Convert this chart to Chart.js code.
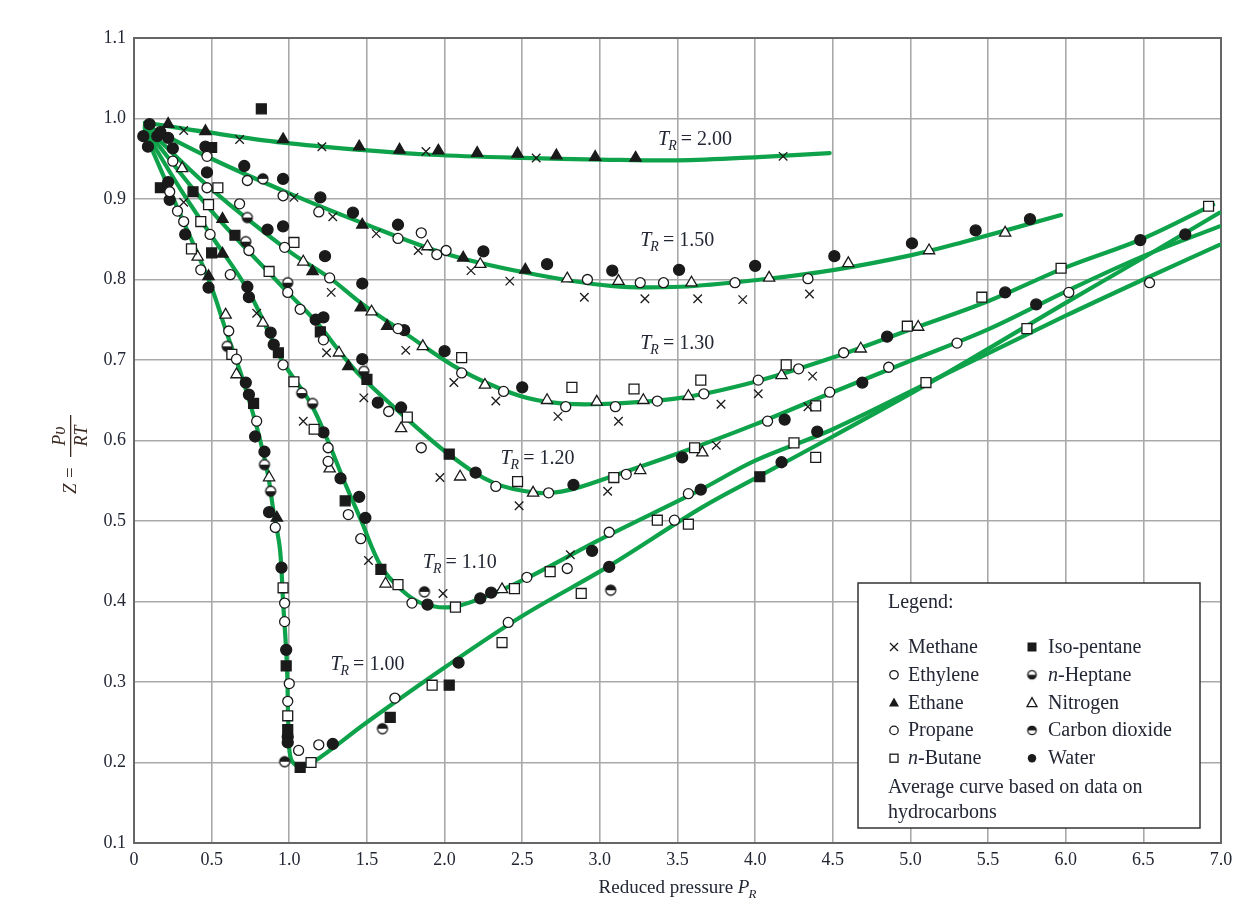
<!DOCTYPE html>
<html>
<head>
<meta charset="utf-8">
<script src="https://cdn.jsdelivr.net/npm/chart.js@4.4.1/dist/chart.umd.min.js"></script>
<style>
  html, body { margin: 0; padding: 0; background: #fff; }
  #wrap { width: 1251px; height: 910px; }
</style>
</head>
<body>
<div id="wrap"><canvas id="grafico" width="1251" height="910"></canvas></div>
<script>
// Curvas médias (Z x Pr) para cada temperatura reduzida
const curvaTR200 = [[0.07,0.995],[0.47,0.983],[0.96,0.970],[1.46,0.961],[1.91,0.955],[2.5,0.951],[3.0,0.949],[3.5,0.948],[4.02,0.952],[4.48,0.957]];
const curvaTR150 = [[0.07,0.992],[0.5,0.950],[1.0,0.907],[1.46,0.871],[1.99,0.833],[2.51,0.809],[3.07,0.792],[3.52,0.791],[4.04,0.800],[4.51,0.812],[5.0,0.830],[5.33,0.846],[5.97,0.880]];
const curvaTR130 = [[0.07,0.990],[0.5,0.912],[1.0,0.835],[1.26,0.802],[1.46,0.771],[1.74,0.734],[2.1,0.688],[2.43,0.659],[2.66,0.648],[2.96,0.645],[3.52,0.653],[4.0,0.673],[4.5,0.703],[5.0,0.738],[5.5,0.773],[6.0,0.815],[6.5,0.851],[6.95,0.893]];
const curvaTR120 = [[0.07,0.988],[0.5,0.885],[0.99,0.784],[1.18,0.746],[1.33,0.709],[1.46,0.680],[1.74,0.630],[2.04,0.581],[2.32,0.547],[2.6,0.535],[2.79,0.538],[3.07,0.555],[3.52,0.585],[4.0,0.620],[4.5,0.660],[5.0,0.699],[5.5,0.738],[6.0,0.785],[6.5,0.829],[6.99,0.866]];
const curvaTR110 = [[0.07,0.985],[0.3,0.912],[0.5,0.854],[0.73,0.788],[0.88,0.729],[0.96,0.697],[1.135,0.647],[1.245,0.601],[1.35,0.551],[1.46,0.502],[1.59,0.444],[1.72,0.415],[1.85,0.398],[2.04,0.393],[2.25,0.405],[2.55,0.431],[3.0,0.477],[3.65,0.539],[4.0,0.575],[4.5,0.614],[5.2,0.680],[6.0,0.755],[6.5,0.800],[6.99,0.843]];
const curvaTR100 = [[0.07,0.982],[0.3,0.880],[0.49,0.795],[0.6,0.732],[0.7,0.676],[0.79,0.617],[0.86,0.560],[0.9,0.510],[0.94,0.465],[0.96,0.400],[0.985,0.320],[0.995,0.240],[1.01,0.205],[1.06,0.195],[1.15,0.200],[1.5,0.250],[2.0,0.318],[2.5,0.382],[3.05,0.443],[3.65,0.516],[4.03,0.556],[4.5,0.605],[5.2,0.680],[6.0,0.771],[6.5,0.827],[6.99,0.883]];

// Pontos experimentais por substância [Pr, Z]
const metano = [[0.32,0.985],[0.68,0.974],[1.21,0.965],[1.88,0.959],[2.59,0.951],[4.18,0.953],
  [1.03,0.902],[1.28,0.878],[1.56,0.857],[1.83,0.836],[2.17,0.811],[2.42,0.798],[2.90,0.778],[3.29,0.776],[3.63,0.776],[3.92,0.775],[4.35,0.782],
  [0.32,0.896],[1.27,0.784],[1.75,0.712],[2.06,0.672],[2.33,0.649],[2.73,0.630],[3.12,0.624],[3.78,0.645],[4.02,0.658],[4.37,0.680],
  [1.24,0.709],[1.48,0.653],[1.97,0.554],[2.48,0.519],[3.05,0.537],[3.75,0.594],[4.34,0.642],
  [0.79,0.758],[1.09,0.624],[1.51,0.451],[1.99,0.410],[2.81,0.458]];
const etileno = [[0.25,0.947],[0.47,0.953],[0.73,0.923],[0.96,0.904],[1.19,0.884],[1.70,0.851],[1.85,0.858],[1.95,0.831],[2.01,0.836],[2.92,0.800],[3.26,0.796],[3.41,0.796],[3.87,0.796],[4.34,0.801],
  [0.47,0.914],[0.68,0.894],[0.97,0.840],[1.26,0.802],[1.70,0.739],[2.11,0.684],[2.38,0.661],[2.78,0.642],[3.10,0.642],[3.37,0.649],[3.67,0.658],[4.02,0.675],[4.28,0.689],[4.57,0.709]];
const etano = [[0.22,0.993],[0.46,0.984],[0.96,0.974],[1.45,0.965],[1.71,0.961],[1.96,0.960],[2.21,0.957],[2.47,0.956],[2.72,0.954],[2.97,0.952],[3.23,0.951],
  [1.47,0.868],[2.12,0.827],[2.52,0.812],[1.15,0.810],[1.46,0.765],[1.63,0.742],[0.57,0.875],
  [0.48,0.804],[1.38,0.692],[0.57,0.832],[0.92,0.504]];
const propano = [[0.23,0.909],[0.28,0.885],[0.32,0.872],[0.49,0.856],[0.74,0.836],[0.99,0.784],[1.07,0.763],[1.22,0.725],[1.64,0.636],[1.85,0.591],[2.33,0.543],[2.67,0.535],[3.17,0.558],[4.08,0.624],[4.48,0.660],[4.86,0.691],[5.30,0.721],[6.02,0.784],
  [0.43,0.812],[0.62,0.806],[0.96,0.694],[1.25,0.591],[1.25,0.574],[1.38,0.508],[1.46,0.478],[1.79,0.398],[2.53,0.430],[2.79,0.441],[3.06,0.486],[3.48,0.501],[3.57,0.534],[6.54,0.796],
  [0.61,0.736],[0.66,0.701],[0.79,0.624],[0.91,0.492],[0.97,0.398],[0.97,0.375],[1.0,0.298],[0.99,0.276],[1.06,0.215],[1.19,0.222],[1.68,0.280],[2.41,0.374]];
const nButano = [[0.54,0.914],[0.48,0.893],[0.43,0.872],[1.03,0.846],[0.37,0.838],[0.87,0.810],[0.63,0.707],[1.03,0.673],[1.16,0.614],
  [2.11,0.703],[2.82,0.666],[3.22,0.664],[3.65,0.675],[4.20,0.694],[4.98,0.742],[1.76,0.629],[2.47,0.549],[3.09,0.554],[3.61,0.591],[4.39,0.643],
  [5.46,0.778],[5.97,0.814],[6.92,0.891],[1.70,0.421],[2.07,0.393],[2.45,0.416],[2.68,0.437],[3.37,0.501],[3.57,0.496],[4.25,0.597],[5.75,0.739],
  [0.96,0.417],[0.99,0.258],[1.14,0.200],[1.92,0.296],[2.37,0.349],[2.88,0.410],[4.39,0.579],[5.10,0.672]];
const isoPentano = [[0.82,1.012],[0.50,0.964],[0.17,0.914],[0.38,0.909],[0.50,0.833],[0.65,0.855],[1.20,0.735],[0.93,0.709],[1.50,0.676],[2.03,0.583],
  [0.77,0.646],[1.36,0.525],[1.59,0.440],[0.98,0.320],[0.99,0.241],[1.07,0.194],[1.65,0.256],[2.03,0.296],[4.03,0.555]];
const nHeptano = [[0.73,0.877],[0.72,0.847],[0.99,0.796],[1.08,0.659],[1.15,0.646],[1.48,0.686],[0.60,0.717],[0.84,0.570],[0.88,0.537]];
const dioxidoCarbono = [[0.83,0.925],[1.87,0.412],[3.07,0.414],[1.60,0.242],[0.97,0.201]];
const nitrogenio = [[0.31,0.938],[1.89,0.841],[2.23,0.819],[2.79,0.801],[3.12,0.798],[3.59,0.796],[4.09,0.802],[4.60,0.820],[5.12,0.836],[5.61,0.858],
  [1.09,0.822],[1.53,0.760],[1.86,0.717],[2.26,0.669],[2.66,0.650],[2.98,0.648],[3.28,0.650],[3.57,0.655],[4.17,0.681],[4.68,0.714],[5.05,0.741],
  [0.41,0.828],[1.32,0.709],[1.72,0.615],[2.10,0.555],[2.57,0.535],[3.26,0.563],[3.66,0.585],
  [0.83,0.746],[1.26,0.565],[1.62,0.422],[2.37,0.415],[0.59,0.756],[0.66,0.682],[0.87,0.554]];
const agua = [[0.10,0.993],[0.06,0.978],[0.09,0.965],[0.15,0.978],[0.22,0.976],[0.17,0.983],[0.25,0.963],[0.22,0.921],[0.23,0.899],[0.33,0.856],[0.48,0.790],
  [0.46,0.965],[0.47,0.933],[0.71,0.941],[0.96,0.925],[1.20,0.902],[1.41,0.883],[1.70,0.868],[2.25,0.835],[2.66,0.819],[3.08,0.811],[3.51,0.812],[4.0,0.817],[4.51,0.829],[5.01,0.845],[5.42,0.861],[5.77,0.875],
  [0.86,0.862],[0.96,0.866],[1.23,0.829],[1.47,0.795],[1.74,0.737],[4.85,0.729],[6.48,0.849],
  [2.0,0.711],[2.50,0.666],[0.73,0.791],[0.74,0.778],[0.88,0.734],[1.17,0.750],[1.22,0.753],[1.47,0.701],[1.57,0.647],[1.72,0.641],[2.20,0.560],[2.83,0.545],[3.53,0.579],[4.19,0.626],[4.69,0.672],[5.61,0.784],[5.81,0.769],[6.77,0.856],
  [0.90,0.719],[1.22,0.610],[1.33,0.553],[1.45,0.530],[1.49,0.504],[1.89,0.396],[2.23,0.404],[2.30,0.411],[2.95,0.463],[3.65,0.539],[4.40,0.611],
  [0.72,0.672],[0.74,0.657],[0.78,0.605],[0.84,0.586],[0.87,0.511],[0.95,0.442],[0.98,0.340],[0.99,0.232],[0.99,0.225],[1.28,0.223],[2.09,0.324],[3.06,0.443],[4.17,0.573]];

// Rótulos das curvas: [texto, Pr, Z] (canto esquerdo, linha de base)
const rotulosTR = [['2.00',3.375,0.967],['1.50',3.26,0.842],['1.30',3.26,0.714],['1.20',2.36,0.571],['1.10',1.86,0.442],['1.00',1.265,0.315]];

const legendaCol1 = ['Methane','Ethylene','Ethane','Propane','n-Butane'];
const legendaCol2 = ['Iso-pentane','n-Heptane','Nitrogen','Carbon dioxide','Water'];

const VERDE = '#0ea34b';
const PRETO = '#1a1a1a';
const TEXTO = '#232734';
const SERIF = '"Liberation Serif", "Times New Roman", serif';

function pts(arr) { return arr.map(p => ({ x: p[0], y: p[1] })); }

// Círculo meio cheio (para n-Heptano e CO2)
function meioCirculo(r, cimaCheio) {
    const c = document.createElement('canvas');
    const s = Math.ceil(r * 2 + 4);
    c.width = s; c.height = s;
    const g = c.getContext('2d');
    const m = s / 2;
    g.fillStyle = '#fff';
    g.beginPath(); g.arc(m, m, r, 0, 2 * Math.PI); g.fill();
    g.fillStyle = PRETO;
    g.beginPath();
    if (cimaCheio) g.arc(m, m, r, Math.PI, 2 * Math.PI); else g.arc(m, m, r, 0, Math.PI);
    g.closePath(); g.fill();
    g.strokeStyle = PRETO; g.lineWidth = 1.3;
    g.beginPath(); g.arc(m, m, r, 0, 2 * Math.PI); g.stroke();
    return c;
}
const imgHeptano = meioCirculo(5, false);
const imgCO2 = meioCirculo(5, true);
const imgHeptanoLeg = meioCirculo(4.2, false);
const imgCO2Leg = meioCirculo(4.2, true);

function curva(arr) {
    return {
        type: 'line', data: pts(arr), showLine: true, borderColor: VERDE, borderWidth: 4.2,
        pointRadius: 0, tension: 0.35, fill: false, order: 5, borderCapStyle: 'round'
    };
}
function serie(label, arr, estilo, raio, fundo) {
    return {
        label: label, data: pts(arr), pointStyle: estilo, pointRadius: raio,
        pointBackgroundColor: fundo, pointBorderColor: PRETO, pointBorderWidth: 1.3,
        showLine: false, order: 1
    };
}

// Desenha um símbolo da legenda
function simbolo(ctx, tipo, x, y) {
    ctx.save();
    ctx.strokeStyle = PRETO; ctx.fillStyle = PRETO; ctx.lineWidth = 1.3;
    if (tipo === 'x') {
        ctx.beginPath(); ctx.moveTo(x - 4, y - 4); ctx.lineTo(x + 4, y + 4);
        ctx.moveTo(x + 4, y - 4); ctx.lineTo(x - 4, y + 4); ctx.stroke();
    } else if (tipo === 'o' || tipo === 'O') {
        ctx.beginPath(); ctx.arc(x, y, 4.2, 0, 2 * Math.PI);
        if (tipo === 'O') ctx.fill(); else ctx.stroke();
    } else if (tipo === 'tri' || tipo === 'TRI') {
        ctx.beginPath(); ctx.moveTo(x, y - 5); ctx.lineTo(x + 5, y + 4); ctx.lineTo(x - 5, y + 4); ctx.closePath();
        if (tipo === 'TRI') ctx.fill(); else ctx.stroke();
    } else if (tipo === 'sq' || tipo === 'SQ') {
        if (tipo === 'SQ') ctx.fillRect(x - 4.5, y - 4.5, 9, 9); else ctx.strokeRect(x - 4, y - 4, 8, 8);
    } else if (tipo === 'hep') {
        ctx.drawImage(imgHeptanoLeg, x - imgHeptanoLeg.width / 2, y - imgHeptanoLeg.height / 2);
    } else if (tipo === 'co2') {
        ctx.drawImage(imgCO2Leg, x - imgCO2Leg.width / 2, y - imgCO2Leg.height / 2);
    }
    ctx.restore();
}

// Texto com "n" itálico no início
function textoComN(ctx, t, x, y) {
    if (t.startsWith('n-')) {
        ctx.font = 'italic 20px ' + SERIF;
        ctx.fillText('n', x, y);
        const w = ctx.measureText('n').width;
        ctx.font = '20px ' + SERIF;
        ctx.fillText(t.slice(1), x + w, y);
    } else {
        ctx.font = '20px ' + SERIF;
        ctx.fillText(t, x, y);
    }
}

const extras = {
    id: 'extras',
    beforeDatasetsDraw(chart) {
        const { ctx, chartArea: a } = chart;
        ctx.save();
        ctx.strokeStyle = '#666';
        ctx.lineWidth = 2;
        ctx.strokeRect(a.left, a.top, a.right - a.left, a.bottom - a.top);
        ctx.restore();
    },
    afterDraw(chart) {
        const { ctx, chartArea: a, scales } = chart;
        ctx.save();
        ctx.fillStyle = TEXTO;
        ctx.textBaseline = 'alphabetic';
        ctx.textAlign = 'left';

        // Rótulos T_R
        rotulosTR.forEach(([val, px, pz]) => {
            let x = scales.x.getPixelForValue(px);
            const y = scales.y.getPixelForValue(pz);
            ctx.font = 'italic 20px ' + SERIF;
            ctx.fillText('T', x, y);
            x += ctx.measureText('T').width - 1;
            ctx.font = 'italic 14px ' + SERIF;
            ctx.fillText('R', x, y + 5);
            x += ctx.measureText('R').width + 4;
            ctx.font = '20px ' + SERIF;
            ctx.fillText('= ' + val, x, y);
        });

        // Título do eixo x
        ctx.font = '19px ' + SERIF;
        const t1 = 'Reduced pressure ';
        const w1 = ctx.measureText(t1).width;
        ctx.font = 'italic 19px ' + SERIF;
        const wP = ctx.measureText('P').width;
        const total = w1 + wP + 10;
        let xs = 679 - total / 2;
        ctx.font = '19px ' + SERIF;
        ctx.fillText(t1, xs, 893);
        ctx.font = 'italic 19px ' + SERIF;
        ctx.fillText('P', xs + w1, 893);
        ctx.font = 'italic 13px ' + SERIF;
        ctx.fillText('R', xs + w1 + wP - 1, 898);

        // Título do eixo y (Z = Pv/RT), girado
        ctx.save();
        ctx.translate(70, 440);
        ctx.rotate(-Math.PI / 2);
        ctx.fillStyle = '#3a2a22';
        ctx.font = 'italic 19px ' + SERIF;
        ctx.textAlign = 'left';
        ctx.fillText('Z', -54, 6);
        ctx.font = '19px ' + SERIF;
        ctx.fillText('=', -38, 6);
        ctx.font = 'italic 18px ' + SERIF;
        ctx.textAlign = 'center';
        ctx.fillText('P\u03C5', 4, -5);
        ctx.fillText('RT', 4, 17);
        ctx.fillRect(-17, 0, 42, 1.3);
        ctx.restore();

        // Legenda
        const lx = 858, ly = 583, lw = 342, lh = 245;
        ctx.fillStyle = '#fff';
        ctx.fillRect(lx, ly, lw, lh);
        ctx.strokeStyle = '#333';
        ctx.lineWidth = 1.5;
        ctx.strokeRect(lx, ly, lw, lh);
        ctx.fillStyle = TEXTO;
        ctx.font = '20px ' + SERIF;
        ctx.fillText('Legend:', 888, 608);
        const simb1 = ['x', 'o', 'TRI', 'o', 'sq'];
        const simb2 = ['SQ', 'hep', 'tri', 'co2', 'O'];
        for (let i = 0; i < 5; i++) {
            const yb = 653 + i * 27.8;
            simbolo(ctx, simb1[i], 894, yb - 6);
            simbolo(ctx, simb2[i], 1032, yb - 6);
            ctx.fillStyle = TEXTO;
            textoComN(ctx, legendaCol1[i], 908, yb);
            textoComN(ctx, legendaCol2[i], 1048, yb);
        }
        ctx.font = '20px ' + SERIF;
        ctx.fillText('Average curve based on data on', 888, 793);
        ctx.fillText('hydrocarbons', 888, 818);
        ctx.restore();
    }
};

new Chart(document.getElementById('grafico').getContext('2d'), {
    type: 'scatter',
    data: {
        datasets: [
            curva(curvaTR200), curva(curvaTR150), curva(curvaTR130),
            curva(curvaTR120), curva(curvaTR110), curva(curvaTR100),
            serie('Methane', metano, 'crossRot', 6, PRETO),
            serie('Ethylene', etileno, 'circle', 5, '#fff'),
            serie('Ethane', etano, 'triangle', 6.5, PRETO),
            serie('Propane', propano, 'circle', 5, '#fff'),
            serie('n-Butane', nButano, 'rect', 7, '#fff'),
            serie('Iso-pentane', isoPentano, 'rect', 7, PRETO),
            serie('n-Heptane', nHeptano, imgHeptano, 6, '#fff'),
            serie('Nitrogen', nitrogenio, 'triangle', 6.5, '#fff'),
            serie('Carbon dioxide', dioxidoCarbono, imgCO2, 6, '#fff'),
            serie('Water', agua, 'circle', 5.5, PRETO)
        ]
    },
    options: {
        responsive: false,
        animation: false,
        events: [],
        layout: { padding: { left: 0, top: 38, right: 30, bottom: 0 } },
        plugins: { legend: { display: false }, tooltip: { enabled: false } },
        scales: {
            x: {
                type: 'linear', min: 0, max: 7,
                afterFit: (s) => { s.height = 67; },
                border: { display: false },
                grid: { color: '#a9a9a9', lineWidth: 1.6, drawTicks: false },
                ticks: {
                    stepSize: 0.5, autoSkip: false, padding: 6, color: TEXTO,
                    font: { family: SERIF, size: 18 },
                    callback: (v) => v === 0 ? '0' : Number(v).toFixed(1)
                }
            },
            y: {
                type: 'linear', min: 0.1, max: 1.1,
                afterFit: (s) => { s.width = 134; },
                border: { display: false },
                grid: { color: '#a9a9a9', lineWidth: 1.6, drawTicks: false },
                ticks: {
                    stepSize: 0.1, autoSkip: false, padding: 8, color: TEXTO,
                    font: { family: SERIF, size: 18 },
                    callback: (v) => Number(v).toFixed(1)
                }
            }
        }
    },
    plugins: [extras]
});
</script>
</body>
</html>
